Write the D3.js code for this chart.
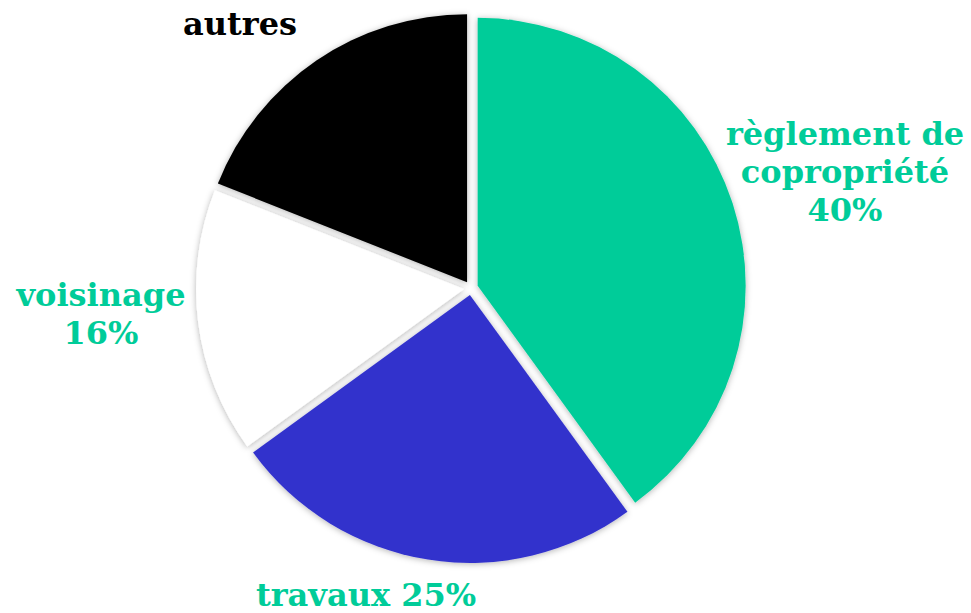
<!DOCTYPE html>
<html>
<head>
<meta charset="utf-8">
<script src="https://d3js.org/d3.v7.min.js"></script>
<style>
  body { margin: 0; background: #fff; }
  .lbl { font-family: 'DejaVu Serif', serif; font-weight: bold; }
</style>
</head>
<body>
<svg id="chart" width="971" height="613"></svg>
<script>
// data
var categories = ["règlement de copropriété", "travaux", "voisinage", "autres"];
var values = [40, 25, 16, 19];
var colors = ["#00cc99", "#3333cc", "#ffffff", "#000000"];
// label lines per slice
var labelLines = [["règlement de", "copropriété", "40%"], ["travaux 25%"], ["voisinage", "16%"], ["autres"]];
var labelColors = ["#00cc99", "#00cc99", "#00cc99", "#000000"];

var width = 971, height = 613;
var cx = 471, cy = 288, radius = 268, explode = 7;

var svg = d3.select("#chart");

var defs = svg.append("defs");
var f = defs.append("filter").attr("id", "shadow")
    .attr("x", "-20%").attr("y", "-20%").attr("width", "140%").attr("height", "140%");
f.append("feDropShadow")
    .attr("dx", 0).attr("dy", 1)
    .attr("stdDeviation", 3)
    .attr("flood-color", "#000")
    .attr("flood-opacity", 0.3);

var pie = d3.pie().sort(null).value(function(d) { return d; });
var arc = d3.arc().innerRadius(0).outerRadius(radius);
var arcs = pie(values);

var g = svg.append("g").attr("transform", "translate(" + cx + "," + cy + ")");

g.selectAll("path")
  .data(arcs)
  .enter().append("path")
  .attr("d", arc)
  .attr("fill", function(d, i) { return colors[i]; })
  .attr("filter", "url(#shadow)")
  .attr("transform", function(d) {
      var a = (d.startAngle + d.endAngle) / 2;
      return "translate(" + (Math.sin(a) * explode) + "," + (-Math.cos(a) * explode) + ")";
  });

// label placement (center x, first baseline, line height, font size)
var labelPos = [
  {x: 845, y: 145, lh: 38, fs: 32},
  {x: 366, y: 606, lh: 0, fs: 32},
  {x: 101, y: 306, lh: 38, fs: 32},
  {x: 240, y: 35, lh: 0, fs: 32}
];

categories.forEach(function(c, i) {
  var p = labelPos[i];
  var t = svg.append("text")
    .attr("class", "lbl")
    .attr("text-anchor", "middle")
    .attr("fill", labelColors[i])
    .attr("font-size", p.fs);
  labelLines[i].forEach(function(line, j) {
    t.append("tspan")
      .attr("x", p.x)
      .attr("y", p.y + j * p.lh)
      .text(line);
  });
});
</script>
</body>
</html>
